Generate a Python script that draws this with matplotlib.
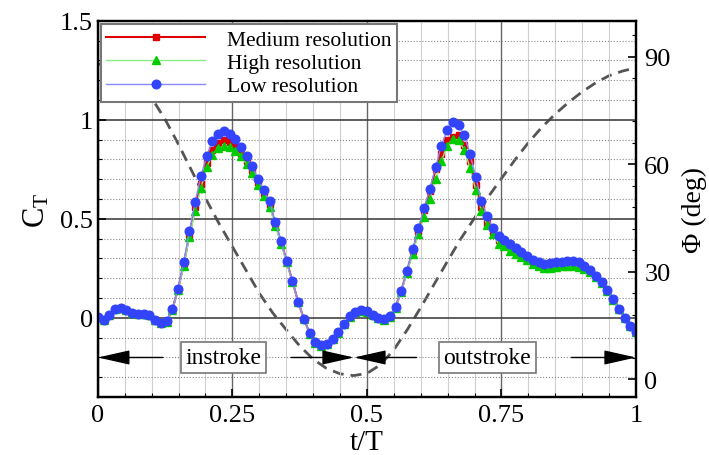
import matplotlib
matplotlib.use('Agg')
import matplotlib.pyplot as plt
import numpy as np
from matplotlib.ticker import MultipleLocator, FuncFormatter

plt.rcParams['font.family'] = ['Liberation Serif', 'DejaVu Serif']
plt.rcParams['mathtext.fontset'] = 'custom'
plt.rcParams['mathtext.rm'] = 'Liberation Serif'
plt.rcParams['mathtext.it'] = 'Liberation Serif:italic'

# thrust coefficient, sampled over one stroke period
t = np.linspace(0, 1, 95)

ct_low = [0.005, -0.012, 0.014, 0.046, 0.051, 0.039, 0.026, 0.022, 0.022, 0.014,
          -0.012, -0.026, -0.017, 0.043, 0.148, 0.283, 0.438, 0.586, 0.715, 0.816,
          0.892, 0.931, 0.943, 0.929, 0.901, 0.864, 0.816, 0.766, 0.702, 0.645,
          0.589, 0.483, 0.390, 0.288, 0.185, 0.081, -0.005, -0.076, -0.121, -0.138,
          -0.130, -0.106, -0.072, -0.029, 0.008, 0.030, 0.039, 0.034, 0.017, 0.000,
          -0.007, 0.008, 0.056, 0.138, 0.239, 0.348, 0.455, 0.556, 0.652, 0.761,
          0.870, 0.948, 0.988, 0.976, 0.923, 0.830, 0.712, 0.590, 0.515, 0.453,
          0.415, 0.395, 0.373, 0.351, 0.331, 0.314, 0.293, 0.280, 0.271, 0.275,
          0.280, 0.283, 0.286, 0.286, 0.280, 0.263, 0.242, 0.212, 0.181, 0.139,
          0.093, 0.046, 0.000, -0.042, -0.073]

ct_medium = [0.005, -0.012, 0.014, 0.046, 0.051, 0.039, 0.026, 0.022, 0.022, 0.014,
             -0.012, -0.028, -0.019, 0.040, 0.145, 0.270, 0.420, 0.560, 0.675, 0.780,
             0.850, 0.885, 0.897, 0.890, 0.867, 0.835, 0.790, 0.745, 0.685, 0.630,
             0.575, 0.475, 0.385, 0.285, 0.183, 0.080, -0.006, -0.078, -0.124, -0.140,
             -0.132, -0.108, -0.073, -0.030, 0.007, 0.029, 0.038, 0.033, 0.016, 0.000,
             -0.008, 0.007, 0.054, 0.136, 0.235, 0.340, 0.440, 0.545, 0.640, 0.750,
             0.830, 0.897, 0.915, 0.926, 0.875, 0.790, 0.670, 0.560, 0.480, 0.435,
             0.395, 0.380, 0.357, 0.338, 0.318, 0.300, 0.280, 0.270, 0.262, 0.265,
             0.270, 0.273, 0.276, 0.277, 0.272, 0.258, 0.238, 0.210, 0.180, 0.138,
             0.093, 0.046, 0.000, -0.042, -0.073]

ct_high = [0.005, -0.012, 0.014, 0.046, 0.051, 0.039, 0.026, 0.022, 0.022, 0.014,
           -0.012, -0.028, -0.019, 0.038, 0.140, 0.260, 0.410, 0.540, 0.657, 0.760,
           0.825, 0.856, 0.867, 0.862, 0.845, 0.820, 0.775, 0.730, 0.670, 0.615,
           0.560, 0.465, 0.375, 0.280, 0.180, 0.078, -0.008, -0.080, -0.126, -0.142,
           -0.133, -0.108, -0.074, -0.031, 0.006, 0.028, 0.037, 0.032, 0.015, -0.001,
           -0.009, 0.006, 0.052, 0.132, 0.225, 0.325, 0.425, 0.510, 0.600, 0.700,
           0.790, 0.870, 0.904, 0.897, 0.850, 0.758, 0.648, 0.540, 0.470, 0.424,
           0.373, 0.364, 0.339, 0.322, 0.305, 0.290, 0.272, 0.260, 0.250, 0.252,
           0.255, 0.260, 0.263, 0.263, 0.258, 0.248, 0.232, 0.205, 0.176, 0.135,
           0.091, 0.045, 0.000, -0.042, -0.073]

# stroke angle
t_phi = np.linspace(0, 1, 41)
phi = [88, 87.3, 85.5, 82.5, 78.5, 72.5, 65.5, 58, 50.5, 43.5, 37, 30.5, 24, 18.5,
       13.8, 9.3, 5.6, 3, 1.5, 1.0, 1.6, 4, 8.2, 13.8, 20, 26.5, 33, 39.3, 45, 50.8,
       56, 61.2, 66, 70.3, 74, 77.3, 80.2, 82.7, 84.7, 86, 86.9]

fig = plt.figure(figsize=(7.09, 4.56), dpi=100)
fig.set_facecolor('w')
ax = fig.add_axes([0.138, 0.127, 0.759, 0.825])
ax2 = ax.twinx()
ax.set_zorder(ax2.get_zorder() + 1)
ax.patch.set_visible(False)

ax2.plot(t_phi, phi, color='#555555', ls=(0, (4, 2.5)), lw=2)

ax.plot(t, ct_medium, '-s', color='#dd0000', mfc='#dd0000', mec='#dd0000',
        lw=1.5, ms=5, label='Medium resolution')
ax.plot(t, ct_high, '-^', color='#88ee88', mfc='#00cc00', mec='#00cc00',
        lw=1, ms=5.5, label='High resolution')
ax.plot(t, ct_low, '-o', color='#8888ff', mfc='#3344ff', mec='#3344ff',
        lw=1, ms=6.2, label='Low resolution')

ax.set_xlim(0, 1)
ax.set_ylim(-0.4, 1.5)
ax2.set_ylim(-5, 100)

fmt = FuncFormatter(lambda v, p: '%g' % v)
ax.xaxis.set_major_locator(MultipleLocator(0.25))
ax.xaxis.set_minor_locator(MultipleLocator(0.05))
ax.yaxis.set_major_locator(MultipleLocator(0.5))
ax.yaxis.set_minor_locator(MultipleLocator(0.1))
ax.xaxis.set_major_formatter(fmt)
ax.yaxis.set_major_formatter(fmt)
ax2.yaxis.set_major_locator(MultipleLocator(30))
ax2.yaxis.set_minor_locator(MultipleLocator(6))

ax.xaxis.grid(True, which='major', color='#666666', lw=1)
ax.xaxis.grid(True, which='minor', color='#d0d0d0', lw=0.8)
ax.yaxis.grid(True, which='major', color='#444444', lw=1.2)
ax.yaxis.grid(True, which='minor', color='#888888', lw=0.8, ls=':')
ax.set_axisbelow(True)

ax.tick_params(which='both', direction='in', labelsize=19)
ax.tick_params(which='major', length=6, width=1.2)
ax.tick_params(which='minor', length=3, width=0.8)
ax.tick_params(axis='y', which='both', right=False)
ax.tick_params(axis='x', pad=5)
ax2.tick_params(which='both', direction='in', labelsize=19)
ax2.tick_params(which='major', length=6, width=1.2, pad=6)
ax2.tick_params(which='minor', length=3, width=0.8)
for a in (ax, ax2):
    for s in a.spines.values():
        s.set_linewidth(1.6)

ax.set_xlabel('t/T', fontsize=21, labelpad=2)
ax.set_ylabel(r'$\mathrm{C_T}$', fontsize=22, labelpad=6)
ax2.set_ylabel('\u03a6 (deg)', fontsize=20, labelpad=8)

# stroke phase arrows
arr = dict(arrowstyle='-|>,head_length=2.0,head_width=0.45', color='k', lw=1,
           mutation_scale=10, shrinkA=0, shrinkB=0)
y_arr = -0.2
for x0, x1 in [(0.121, 0.0), (0.359, 0.476), (0.592, 0.476), (0.88, 1.0)]:
    ax.annotate('', xy=(x1, y_arr), xytext=(x0, y_arr), arrowprops=arr)
box = dict(boxstyle='square,pad=0.2', fc='w', ec='#777777', lw=1.2)
ax.text(0.233, y_arr, 'instroke', fontsize=17, ha='center', va='center', bbox=box)
ax.text(0.724, y_arr, 'outstroke', fontsize=17, ha='center', va='center', bbox=box)

leg = ax.legend(loc='upper left', fontsize=15.5, handlelength=4.6, numpoints=1,
                handletextpad=1.0, labelspacing=0.15, borderpad=0.25,
                borderaxespad=0.15, fancybox=False, framealpha=1)
leg.get_frame().set_edgecolor('#777777')
leg.get_frame().set_linewidth(1.5)

fig.savefig('out.png', dpi=100)
